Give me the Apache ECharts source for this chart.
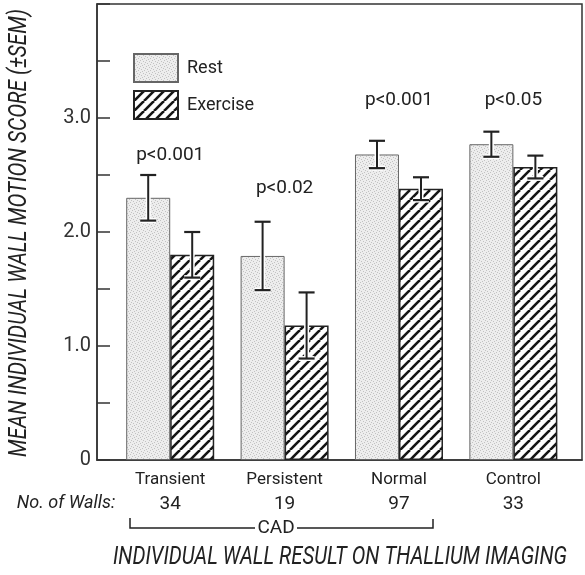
<!DOCTYPE html>
<html>
<head>
<meta charset="utf-8">
<script src="https://cdn.jsdelivr.net/npm/echarts@6/dist/echarts.min.js"></script>
<style>
html,body{margin:0;padding:0;background:#fff;}
#main{width:585px;height:575px;}
</style>
</head>
<body>
<div id="main"></div>
<script>
// ---- data ----
const categories = ['Transient', 'Persistent', 'Normal', 'Control'];
const wallCounts = [34, 19, 97, 33];
const restMean = [2.30, 1.79, 2.68, 2.77];
const restSem = [0.20, 0.30, 0.12, 0.11];
const exerciseMean = [1.80, 1.18, 2.38, 2.57];
const exerciseSem = [0.20, 0.29, 0.10, 0.10];
const pLabels = ['p<0.001', 'p<0.02', 'p<0.001', 'p<0.05'];
const pLabelY = [2.67, 2.38, 3.16, 3.16];
const yTicks = [0, 0.5, 1, 1.5, 2, 2.5, 3, 3.5, 4];

// ---- fill patterns ----
function stipple() {
  const c = document.createElement('canvas');
  c.width = 6; c.height = 6;
  const g = c.getContext('2d');
  g.fillStyle = '#ededed'; g.fillRect(0, 0, 6, 6);
  g.fillStyle = '#c2c2c2';
  [[0,0],[3,1],[1,3],[4,4],[5,2],[2,5]].forEach(p => g.fillRect(p[0], p[1], 1, 1));
  return c;
}
function hatch() {
  const s = 10;
  const c = document.createElement('canvas');
  c.width = s; c.height = s;
  const g = c.getContext('2d');
  g.fillStyle = '#ffffff'; g.fillRect(0, 0, s, s);
  g.strokeStyle = '#151515'; g.lineWidth = 2.6;
  [-s, 0, s].forEach(k => { g.beginPath(); g.moveTo(k, s); g.lineTo(k + s, 0); g.stroke(); });
  return c;
}
const restFill = { image: stipple(), repeat: 'repeat' };
const exFill = { image: hatch(), repeat: 'repeat' };

const xs = categories.map((_, i) => i + 1);
const restData = xs.map((x, i) => [x, restMean[i]]);
const exData = xs.map((x, i) => [x, exerciseMean[i]]);
const restErr = xs.map((x, i) => [x, restMean[i], restSem[i]]);
const exErr = xs.map((x, i) => [x, exerciseMean[i], exerciseSem[i]]);
const pData = xs.map((x, i) => [x, pLabelY[i], pLabels[i]]);

function errRender(offset) {
  return function (params, api) {
    const x = api.value(0), m = api.value(1), e = api.value(2);
    const top = api.coord([x, m + e]);
    const bot = api.coord([x, m - e]);
    const cx = top[0] + offset;
    const hw = 8;
    const line = (x1, y1, x2, y2, w, col) => ({ type: 'line', shape: { x1, y1, x2, y2 }, style: { stroke: col, lineWidth: w } });
    return {
      type: 'group',
      children: [
        line(cx, top[1], cx, bot[1], 5, '#ffffff'),
        line(cx - hw, bot[1], cx + hw, bot[1], 5, '#ffffff'),
        line(cx, top[1], cx, bot[1], 2, '#222'),
        line(cx - hw, top[1], cx + hw, top[1], 2.2, '#222'),
        line(cx - hw, bot[1], cx + hw, bot[1], 2.2, '#222')
      ]
    };
  };
}

// text width helper for condensed titles
const mctx = document.createElement('canvas').getContext('2d');
function fitScale(text, font, target) {
  mctx.font = font;
  const w = mctx.measureText(text).width;
  return w > 0 ? target / w : 1;
}
const yTitle = 'MEAN INDIVIDUAL WALL MOTION SCORE (\u00B1SEM)';
const yTitleFont = 'italic 26px Roboto';
const xTitle = 'INDIVIDUAL WALL RESULT ON THALLIUM IMAGING';
const xTitleFont = 'italic 26px Roboto';

const chart = echarts.init(document.getElementById('main'), null, { renderer: 'canvas' });
chart.setOption({
  backgroundColor: '#ffffff',
  animation: false,
  grid: { left: 97, right: 3, top: 4, bottom: 115, show: true, borderColor: '#333', borderWidth: 1.5 },
  legend: {
    data: ['Rest', 'Exercise'],
    orient: 'vertical', left: 128, top: 48,
    itemWidth: 44, itemHeight: 28, itemGap: 7,
    icon: 'rect',
    selectedMode: false,
    textStyle: { fontFamily: 'Roboto', fontSize: 18, color: '#222', padding: [0, 0, 0, 4] }
  },
  xAxis: {
    type: 'value', min: 0.36, max: 4.6,
    axisLine: { show: true, lineStyle: { color: '#333', width: 1.5 } },
    axisTick: { show: false },
    splitLine: { show: false },
    axisLabel: {
      customValues: xs,
      margin: 8,
      formatter: v => {
        const i = Math.round(v) - 1;
        return '{a|' + categories[i] + '}\n{b|' + wallCounts[i] + '}';
      },
      rich: {
        a: { fontFamily: 'Roboto', fontSize: 17, color: '#222', lineHeight: 24 },
        b: { fontFamily: 'Roboto', fontSize: 19, color: '#222', lineHeight: 24 }
      }
    }
  },
  yAxis: {
    type: 'value', min: 0, max: 4, interval: 0.5,
    axisLine: { show: true, lineStyle: { color: '#333', width: 1.5 } },
    axisTick: { show: true, inside: true, length: 13, customValues: yTicks, lineStyle: { color: '#333', width: 1.5 } },
    splitLine: { show: false },
    axisLabel: {
      margin: 6,
      fontFamily: 'Roboto', fontSize: 20, color: '#333',
      formatter: v => (v === 0 ? '0' : (Number.isInteger(v) && v < 4 ? v.toFixed(1) : ''))
    }
  },
  series: [
    {
      name: 'Rest', type: 'bar', data: restData,
      barWidth: 44, barGap: '0%',
      itemStyle: { color: restFill, borderColor: '#666', borderWidth: 1 },
      z: 2
    },
    {
      name: 'Exercise', type: 'bar', data: exData,
      barWidth: 44, barGap: '0%',
      itemStyle: { color: exFill, borderColor: '#222', borderWidth: 1.5 },
      z: 2
    },
    {
      name: 'Rest SEM', type: 'custom', data: restErr,
      encode: { x: 0, y: 1 },
      renderItem: errRender(-22), z: 5, silent: true
    },
    {
      name: 'Exercise SEM', type: 'custom', data: exErr,
      encode: { x: 0, y: 1 },
      renderItem: errRender(22), z: 5, silent: true
    },
    {
      name: 'p', type: 'custom', data: pData,
      encode: { x: 0, y: 1 },
      renderItem: (params, api) => {
        const p = api.coord([api.value(0), api.value(1)]);
        return {
          type: 'text', x: p[0], y: p[1],
          style: { text: pData[params.dataIndex][2], fill: '#222', font: '19px Roboto', align: 'center', verticalAlign: 'middle' }
        };
      },
      z: 6, silent: true
    }
  ],
  graphic: [
    {
      type: 'text', x: 19, y: 233, rotation: Math.PI / 2,
      scaleX: fitScale(yTitle, yTitleFont, 448), scaleY: 1,
      style: { text: yTitle, font: yTitleFont, fill: '#222', align: 'center', verticalAlign: 'middle' }
    },
    {
      type: 'text', x: 340, y: 557,
      scaleX: fitScale(xTitle, xTitleFont, 454), scaleY: 1,
      style: { text: xTitle, font: xTitleFont, fill: '#222', align: 'center', verticalAlign: 'middle' }
    },
    {
      type: 'text', x: 66, y: 503,
      style: { text: 'No. of Walls:', font: 'italic 18px Roboto', fill: '#222', align: 'center', verticalAlign: 'middle' }
    },
    {
      type: 'polyline',
      shape: { points: [[130, 518], [130, 528], [255, 528]] },
      style: { stroke: '#222', lineWidth: 1.5, fill: null }
    },
    {
      type: 'polyline',
      shape: { points: [[297, 528], [433, 528], [433, 519]] },
      style: { stroke: '#222', lineWidth: 1.5, fill: null }
    },
    {
      type: 'text', x: 276, y: 528,
      style: { text: 'CAD', font: '19px Roboto', fill: '#222', align: 'center', verticalAlign: 'middle' }
    }
  ]
});
</script>
</body>
</html>
